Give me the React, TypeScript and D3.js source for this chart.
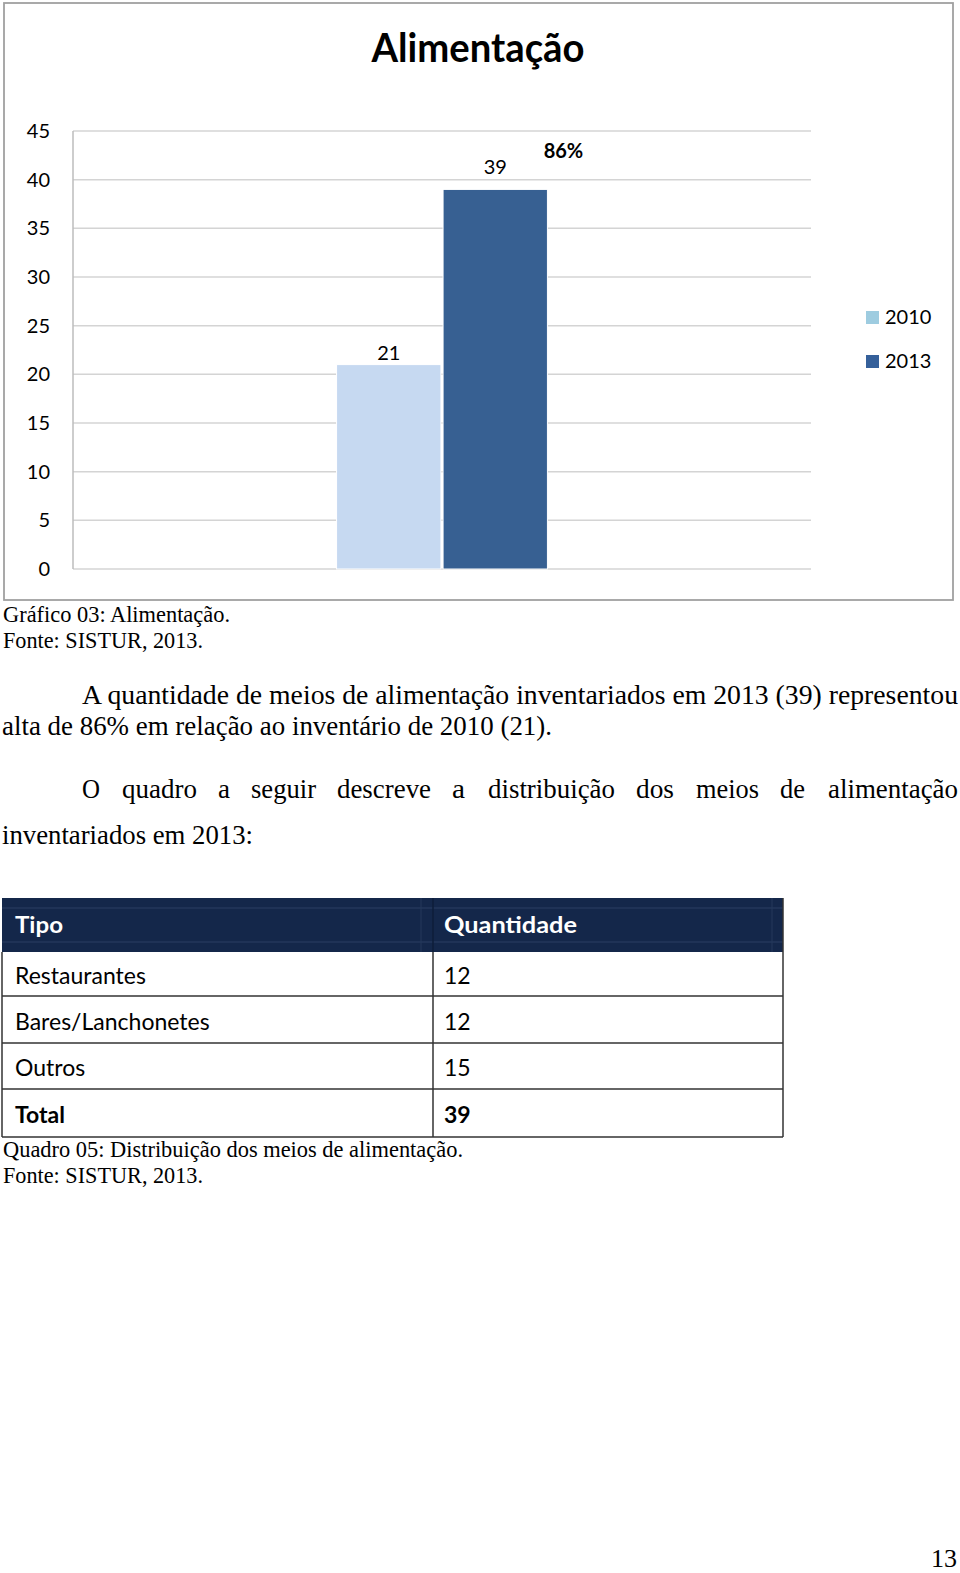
import React from 'react';
import * as d3 from 'd3';

const chartTitle = 'Alimentação';
const series = ['2010', '2013'];
const values = [21, 39];
const growthLabel = '86%';
const yTicks = [0, 5, 10, 15, 20, 25, 30, 35, 40, 45];
const tableHeader = ['Tipo', 'Quantidade'];
const tableTipos = ['Restaurantes', 'Bares/Lanchonetes', 'Outros', 'Total'];
const tableQuant = ['12', '12', '15', '39'];
const barColors = ['#C6D9F1', '#376092'];
const legendColors = ['#9ECCE0', '#35609A'];

const W = 960;
const H = 1573;
const plot = { left: 73, right: 811, top: 131, bottom: 569 };
const SANS = 'Lato, "Open Sans", sans-serif';
const SERIF = '"Liberation Serif", "DejaVu Serif", serif';

const para2Words: [string, number, number][] = [
  ['O', 82, 100], ['quadro', 122, 197], ['a', 218, 230], ['seguir', 251, 316],
  ['descreve', 337, 431], ['a', 452, 465], ['distribuição', 488, 615], ['dos', 636, 674],
  ['meios', 696, 759], ['de', 780, 805], ['alimentação', 828, 958],
];

export default function App() {
  const y = d3.scaleLinear().domain([0, 45]).range([plot.bottom, plot.top]);
  const x0 = d3.scaleBand<string>().domain([chartTitle]).range([plot.left, plot.right]).paddingOuter(1.25).paddingInner(0);
  const x1 = d3.scaleBand<string>().domain(series).range([0, x0.bandwidth()]).paddingInner(0.02);
  const gx = x0(chartTitle) as number;
  const labelGap = [5, 15];

  const tableLeft = 2, tableRight = 783, colDiv = 433;
  const headerTop = 898, headerBottom = 952;
  const rowBounds = [952, 996, 1043, 1089, 1137];

  const T = (props: any) => <text {...props} lengthAdjust="spacingAndGlyphs" />;

  return (
    <svg width={W} height={H} style={{ position: 'absolute', left: 0, top: 0, background: '#fff' }}>
      <rect x={0} y={0} width={W} height={H} fill="#fff" />
      {/* Chart frame */}
      <rect x={4} y={3} width={949} height={597} fill="#fff" stroke="#A0A0A0" strokeWidth={1.8} />
      <T x={478} y={62} textAnchor="middle" fontFamily={SANS} fontWeight="bold" fontSize={40} textLength={213} fill="#000">{chartTitle}</T>

      {/* gridlines */}
      {yTicks.map(t => (
        <line key={'g' + t} x1={plot.left} x2={plot.right} y1={y(t)} y2={y(t)} stroke="#D4D4D4" strokeWidth={1.5} />
      ))}
      <line x1={plot.left} x2={plot.left} y1={plot.top} y2={plot.bottom} stroke="#BDBDBD" strokeWidth={1.5} />
      {yTicks.map(t => (
        <text key={'t' + t} x={50} y={y(t) + 7} textAnchor="end" fontFamily={SANS} fontSize={20} fill="#000">{t}</text>
      ))}

      {/* bars */}
      {series.map((s, i) => {
        const bx = gx + (x1(s) as number);
        return (
          <g key={s}>
            <rect x={bx} y={y(values[i])} width={x1.bandwidth()} height={y(0) - y(values[i])} fill={barColors[i]} stroke="#fff" strokeWidth={1} />
            <text x={bx + x1.bandwidth() / 2} y={y(values[i]) - labelGap[i]} textAnchor="middle" fontFamily={SANS} fontSize={20} fill="#000">{values[i]}</text>
          </g>
        );
      })}
      <text x={gx + (x1(series[1]) as number) + x1.bandwidth() + 16} y={y(values[1]) - 31} textAnchor="middle" fontFamily={SANS} fontWeight="bold" fontSize={20} fill="#000">{growthLabel}</text>

      {/* legend */}
      {series.map((s, i) => (
        <g key={'l' + s}>
          <rect x={866} y={311 + i * 44} width={13} height={13} fill={legendColors[i]} />
          <text x={885} y={324 + i * 44} fontFamily={SANS} fontSize={20} fill="#000">{s}</text>
        </g>
      ))}

      {/* captions */}
      <T x={3} y={622} fontFamily={SERIF} fontSize={23} textLength={227} fill="#000">Gráfico 03: Alimentação.</T>
      <T x={3} y={648} fontFamily={SERIF} fontSize={23} textLength={200} fill="#000">Fonte: SISTUR, 2013.</T>

      {/* paragraphs */}
      <T x={82} y={704} fontFamily={SERIF} fontSize={27} textLength={876} fill="#000">A quantidade de meios de alimentação inventariados em 2013 (39) representou</T>
      <T x={2} y={735} fontFamily={SERIF} fontSize={27} textLength={550} fill="#000">alta de 86% em relação ao inventário de 2010 (21).</T>
      {para2Words.map(([w, a, b], i) => (
        <T key={'w' + i} x={a} y={798} fontFamily={SERIF} fontSize={27} textLength={b - a} fill="#000">{w}</T>
      ))}
      <T x={2} y={844} fontFamily={SERIF} fontSize={27} textLength={251} fill="#000">inventariados em 2013:</T>

      {/* table */}
      <rect x={tableLeft} y={headerTop} width={tableRight - tableLeft} height={headerBottom - headerTop} fill="#14274A" />
      <line x1={tableLeft} x2={tableRight} y1={908} y2={908} stroke="#2A3E62" strokeWidth={1} />
      <line x1={tableLeft} x2={tableRight} y1={942} y2={942} stroke="#2A3E62" strokeWidth={1} />
      <line x1={421} x2={421} y1={headerTop} y2={headerBottom} stroke="#24385A" strokeWidth={1} />
      <line x1={colDiv} x2={colDiv} y1={headerTop} y2={headerBottom} stroke="#0E1E3A" strokeWidth={1.5} />
      <line x1={772} x2={772} y1={headerTop} y2={headerBottom} stroke="#24385A" strokeWidth={1} />
      <T x={15} y={933} fontFamily={SANS} fontWeight="bold" fontSize={23} textLength={48} fill="#fff">{tableHeader[0]}</T>
      <T x={444} y={933} fontFamily={SANS} fontWeight="bold" fontSize={23} textLength={133} fill="#fff">{tableHeader[1]}</T>

      {rowBounds.slice(1).map((yb, i) => (
        <line key={'r' + i} x1={tableLeft} x2={tableRight} y1={yb} y2={yb} stroke="#333" strokeWidth={1.5} />
      ))}
      <line x1={tableLeft} x2={tableLeft} y1={headerBottom} y2={rowBounds[4]} stroke="#333" strokeWidth={1.5} />
      <line x1={tableRight} x2={tableRight} y1={headerTop} y2={rowBounds[4]} stroke="#333" strokeWidth={1.5} />
      <line x1={colDiv} x2={colDiv} y1={headerBottom} y2={rowBounds[4]} stroke="#333" strokeWidth={1.5} />
      {tableTipos.map((t, i) => {
        const bl = (rowBounds[i] + rowBounds[i + 1]) / 2 + 10;
        const bold = i === tableTipos.length - 1;
        return (
          <g key={'row' + i}>
            <text x={15} y={bl} fontFamily={SANS} fontWeight={bold ? 'bold' : 'normal'} fontSize={23} fill="#000">{t}</text>
            <text x={444} y={bl} fontFamily={SANS} fontWeight={bold ? 'bold' : 'normal'} fontSize={23} fill="#000">{tableQuant[i]}</text>
          </g>
        );
      })}

      <T x={3} y={1157} fontFamily={SERIF} fontSize={23} textLength={460} fill="#000">Quadro 05: Distribuição dos meios de alimentação.</T>
      <T x={3} y={1183} fontFamily={SERIF} fontSize={23} textLength={200} fill="#000">Fonte: SISTUR, 2013.</T>

      <text x={957} y={1567} textAnchor="end" fontFamily={SERIF} fontSize={26} fill="#000">13</text>
    </svg>
  );
}
